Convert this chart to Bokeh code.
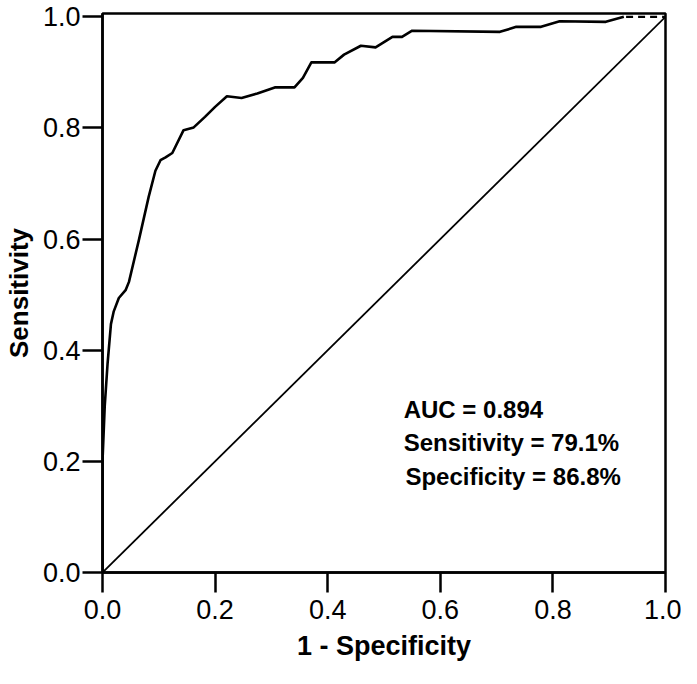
from bokeh.plotting import figure
from bokeh.models import Range1d, FixedTicker, NumeralTickFormatter, Label
from bokeh.embed import file_html
from bokeh.resources import INLINE

# ROC curve
fpr = [0.000, 0.000, 0.004, 0.009, 0.015, 0.020, 0.029, 0.041, 0.047, 0.065,
       0.082, 0.094, 0.103, 0.112, 0.124, 0.144, 0.162, 0.182, 0.200, 0.221,
       0.247, 0.275, 0.306, 0.341, 0.356, 0.371, 0.394, 0.412, 0.429, 0.459,
       0.485, 0.515, 0.532, 0.550, 0.706, 0.735, 0.779, 0.812, 0.894, 0.926]
tpr = [0.000, 0.200, 0.300, 0.376, 0.447, 0.470, 0.494, 0.508, 0.523, 0.600,
       0.676, 0.723, 0.742, 0.747, 0.755, 0.796, 0.801, 0.820, 0.838, 0.857,
       0.854, 0.862, 0.873, 0.873, 0.890, 0.918, 0.918, 0.918, 0.932, 0.948,
       0.945, 0.964, 0.964, 0.975, 0.973, 0.982, 0.982, 0.992, 0.991, 1.000]

# dashed tail of the curve
tail_x = [0.930, 1.000]
tail_y = [1.000, 1.000]

# reference diagonal
diag_x = [0.0, 1.0]
diag_y = [0.0, 1.0]

ticks = [0.0, 0.2, 0.4, 0.6, 0.8, 1.0]

x_title = "1 - Specificity"
y_title = "Sensitivity"

stats_text = ["AUC = 0.894", "Sensitivity =  79.1%", "Specificity = 86.8%"]
stats_x = [0.535, 0.535, 0.538]
stats_y = [0.293, 0.234, 0.172]

FONT = "Liberation Sans"

p = figure(width=681, height=668, output_backend="svg", toolbar_location=None,
           x_range=Range1d(0, 1.0), y_range=Range1d(0, 1.006),
           min_border_left=99, min_border_right=16, min_border_top=13,
           min_border_bottom=96)

p.grid.visible = False
p.background_fill_color = "white"
p.border_fill_color = "white"
p.outline_line_color = "black"
p.outline_line_width = 2.5
p.outline_line_alpha = 1.0

for ax in (p.xaxis[0], p.yaxis[0]):
    ax.ticker = FixedTicker(ticks=ticks)
    ax.formatter = NumeralTickFormatter(format="0.0")
    ax.axis_line_width = 2.5
    ax.axis_line_color = "black"
    ax.major_tick_line_width = 2.5
    ax.major_tick_line_color = "black"
    ax.major_tick_out = 20
    ax.major_tick_in = 0
    ax.minor_tick_line_color = None
    ax.major_label_text_font = FONT
    ax.major_label_text_font_size = "27px"
    ax.major_label_text_color = "black"
    ax.axis_label_text_font = FONT
    ax.axis_label_text_font_style = "bold"
    ax.axis_label_text_color = "black"

p.xaxis.axis_label = x_title
p.yaxis.axis_label = y_title
p.xaxis.axis_label_text_font_size = "27px"
p.yaxis.axis_label_text_font_size = "26px"
p.xaxis.major_label_standoff = 7
p.yaxis.major_label_standoff = 2
p.xaxis.axis_label_standoff = 9
p.yaxis.axis_label_standoff = 6

p.line(diag_x, diag_y, line_color="black", line_width=1.8)
p.line(fpr, tpr, line_color="black", line_width=2.6, line_join="round")
p.line(tail_x, tail_y, line_color="black", line_width=2.2, line_dash="7 5")

for t, x, y in zip(stats_text, stats_x, stats_y):
    p.add_layout(Label(x=x, y=y, text=t, text_font=FONT, text_font_size="24px",
                       text_font_style="bold", text_color="black",
                       text_baseline="middle", text_align="left"))

open("out.html", "w").write(file_html(p, INLINE))
